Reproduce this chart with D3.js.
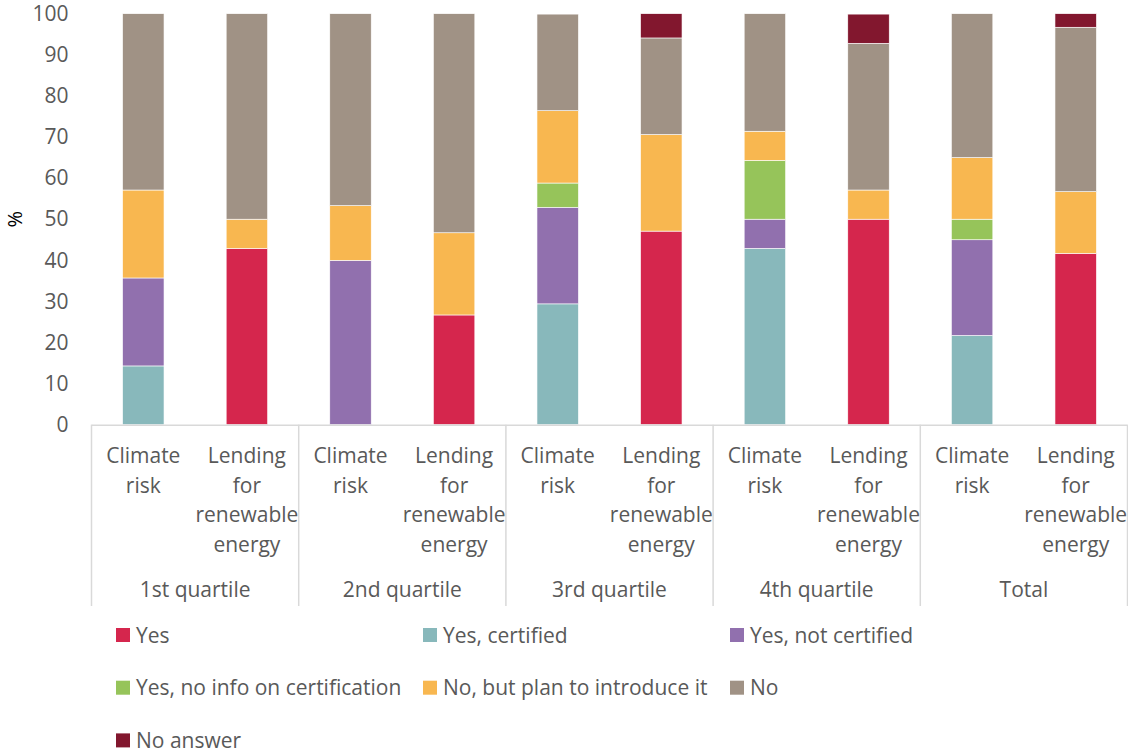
<!DOCTYPE html>
<html><head><meta charset="utf-8">
<script src="https://cdn.jsdelivr.net/npm/d3@7"></script>
<style>body{margin:0;background:#fff;} text{font-family:"Open Sans",sans-serif;}</style>
</head><body>
<svg id="chart" width="1128" height="753"></svg>
<script>
const groups = ["1st quartile", "2nd quartile", "3rd quartile", "4th quartile", "Total"];
const subCategories = ["Climate risk", "Lending for renewable energy"];
const seriesNames = ["Yes", "Yes, certified", "Yes, not certified", "Yes, no info on certification", "No, but plan to introduce it", "No", "No answer"];
const seriesColors = ["#d5264d", "#88b8bb", "#9170ae", "#96c45a", "#f8b750", "#a09285", "#82172e"];
// values per bar in order: Q1 CR, Q1 LRE, Q2 CR, Q2 LRE, Q3 CR, Q3 LRE, Q4 CR, Q4 LRE, Total CR, Total LRE
const yesValues           = [0, 42.9, 0, 26.7, 0, 47.1, 0, 50.0, 0, 41.7];
const yesCertified        = [14.3, 0, 0, 0, 29.4, 0, 42.9, 0, 21.7, 0];
const yesNotCertified     = [21.4, 0, 40.0, 0, 23.5, 0, 7.1, 0, 23.3, 0];
const yesNoInfo           = [0, 0, 0, 0, 5.9, 0, 14.3, 0, 5.0, 0];
const noButPlan           = [21.4, 7.1, 13.3, 20.0, 17.6, 23.5, 7.1, 7.1, 15.0, 15.0];
const noValues            = [42.9, 50.0, 46.7, 53.3, 23.5, 23.5, 28.6, 35.7, 35.0, 40.0];
const noAnswer            = [0, 0, 0, 0, 0, 5.9, 0, 7.1, 0, 3.3];
const yTicks = [0, 10, 20, 30, 40, 50, 60, 70, 80, 90, 100];
const yAxisLabel = "%";

const seriesValues = [yesValues, yesCertified, yesNotCertified, yesNoInfo, noButPlan, noValues, noAnswer];
const bars = [];
groups.forEach((g, gi) => subCategories.forEach((s, si) => {
  const row = {id: gi + "-" + si, group: g, sub: s};
  seriesNames.forEach((n, k) => row[n] = seriesValues[k][gi * 2 + si]);
  bars.push(row);
}));

const svg = d3.select("#chart");
const mLeft = 91.5, mRight = 1127.5, mTop = 13.7, mBottom = 424.7;
const fs = "21px";
const x = d3.scaleBand().domain(bars.map(d => d.id)).range([mLeft, mRight]).paddingInner(0.6).paddingOuter(0.3);
const y = d3.scaleLinear().domain([0, 100]).range([mBottom, mTop]);
const color = d3.scaleOrdinal().domain(seriesNames).range(seriesColors);
const textColor = "#595959";

const stacked = d3.stack().keys(seriesNames)(bars);
svg.append("g").selectAll("g").data(stacked).join("g")
  .attr("fill", d => color(d.key))
  .selectAll("rect").data(d => d).join("rect")
  .attr("x", d => x(d.data.id))
  .attr("width", x.bandwidth())
  .attr("y", d => y(d[1]))
  .attr("height", d => Math.max(0, y(d[0]) - y(d[1])))
  .attr("stroke", d => (d[1] - d[0]) > 0 ? "#fff" : "none")
  .attr("stroke-width", 0.6);

// y axis
const yAxis = svg.append("g").attr("transform", `translate(${mLeft},0)`)
  .call(d3.axisLeft(y).tickValues(yTicks).tickSize(0).tickPadding(23));
yAxis.select(".domain").remove();
yAxis.selectAll("text").attr("fill", textColor).style("font-size", fs).style("font-family", "'Open Sans',sans-serif");

svg.append("text").attr("transform", `translate(22,${(mTop + mBottom) / 2}) rotate(-90)`)
  .attr("text-anchor", "middle").attr("fill", "#000").style("font-size", "20px").text(yAxisLabel);

// x axis lines
const axisColor = "#d9d9d9";
svg.append("line").attr("x1", mLeft).attr("x2", mRight).attr("y1", mBottom + 0.5).attr("y2", mBottom + 0.5)
  .attr("stroke", axisColor).attr("stroke-width", 1.5);
const groupScale = d3.scaleBand().domain(groups).range([mLeft, mRight]);
const bounds = groups.map(g => groupScale(g)).concat([mRight]);
svg.append("g").selectAll("line").data(bounds).join("line")
  .attr("x1", d => d).attr("x2", d => d).attr("y1", mBottom).attr("y2", 606)
  .attr("stroke", axisColor).attr("stroke-width", 1.5);

// sub labels
const subG = svg.append("g").selectAll("text").data(bars).join("text")
  .attr("text-anchor", "middle").attr("fill", textColor).style("font-size", fs)
  .attr("transform", d => `translate(${x(d.id) + x.bandwidth() / 2},0)`);
subG.selectAll("tspan").data(d => d.sub.split(" ")).join("tspan")
  .attr("x", 0).attr("y", (d, i) => 463 + i * 29.5).text(d => d);

// group labels
svg.append("g").selectAll("text").data(groups).join("text")
  .attr("x", d => groupScale(d) + groupScale.bandwidth() / 2).attr("y", 597)
  .attr("text-anchor", "middle").attr("fill", textColor).style("font-size", fs).text(d => d);

// legend
const legend = svg.append("g").selectAll("g").data(seriesNames).join("g")
  .attr("transform", (d, i) => `translate(${116 + (i % 3) * 307},${635 + Math.floor(i / 3) * 52.7})`);
legend.append("rect").attr("x", 0).attr("y", -7).attr("width", 14).attr("height", 14).attr("fill", d => color(d));
legend.append("text").attr("x", 20).attr("y", 7.5).attr("fill", textColor).style("font-size", fs).text(d => d);
</script>
</body></html>
